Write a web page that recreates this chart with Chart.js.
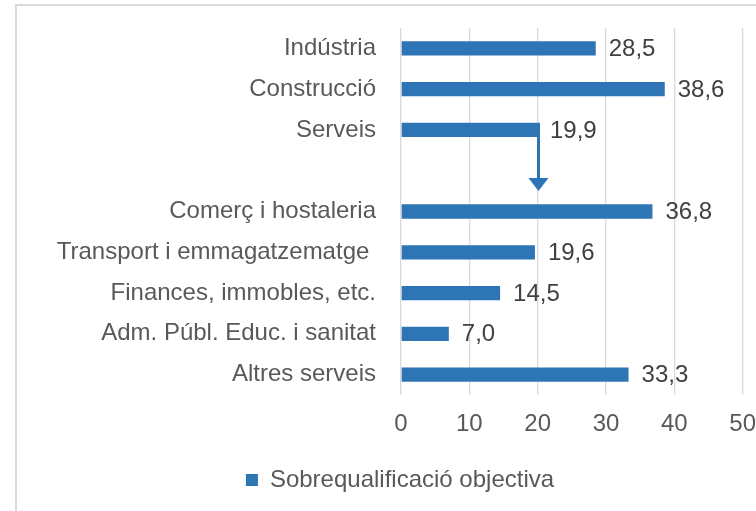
<!DOCTYPE html>
<html>
<head>
<meta charset="utf-8">
<script src="https://cdn.jsdelivr.net/npm/chart.js@4"></script>
<style>
    body { margin: 0; background: #fff; }
    #wrap { position: relative; width: 756px; height: 511px; overflow: hidden; }
    #frame { position: absolute; left: 15px; top: 4px; width: 800px; height: 600px; border: 2px solid #dadada; }
    canvas { position: absolute; left: 0; top: 0; }
</style>
</head>
<body>
<div id="wrap">
    <div id="frame"></div>
    <canvas id="barChart" width="756" height="511"></canvas>
</div>
<script>
// categories (blank one makes the gap under Serveis)
const sectors = ['Indústria', 'Construcció', 'Serveis', '', 'Comerç i hostaleria', 'Transport i emmagatzematge ', 'Finances, immobles, etc.', 'Adm. Públ. Educ. i sanitat', 'Altres serveis']
const overQualified = [28.5, 38.6, 19.9, null, 36.8, 19.6, 14.5, 7.0, 33.3]
const seriesName = 'Sobrequalificació objectiva'
const xTicks = [0, 10, 20, 30, 40, 50]

const blue = '#2E75B6'
const fontFamily = '"Liberation Sans", Arial, sans-serif'
const fontSize = 24

// value labels next to the bars, with decimal comma
const valueLabels = {
    id: 'valueLabels',
    afterDatasetsDraw(chart) {
        const ctx = chart.ctx
        const meta = chart.getDatasetMeta(0)
        ctx.save()
        ctx.font = fontSize + 'px ' + fontFamily
        ctx.fillStyle = '#404040'
        ctx.textAlign = 'left'
        ctx.textBaseline = 'middle'
        meta.data.forEach((bar, i) => {
            const v = overQualified[i]
            if (v === null) return
            ctx.fillText(v.toFixed(1).replace('.', ','), bar.x + 13, bar.y + 1)
        })
        ctx.restore()
    }
}

// arrow going down from the end of the Serveis bar
const serveisArrow = {
    id: 'serveisArrow',
    afterDatasetsDraw(chart) {
        const ctx = chart.ctx
        const bar = chart.getDatasetMeta(0).data[2]
        const yScale = chart.scales.y
        const x = bar.x + 1.5
        const yStart = bar.y - bar.height / 2
        const yTip = (yScale.getPixelForValue(3) + yScale.getPixelForValue(4)) / 2
        ctx.save()
        ctx.strokeStyle = blue
        ctx.fillStyle = blue
        ctx.lineWidth = 3
        ctx.beginPath()
        ctx.moveTo(x, yStart)
        ctx.lineTo(x, yTip - 10)
        ctx.stroke()
        ctx.beginPath()
        ctx.moveTo(x - 10, yTip - 13)
        ctx.lineTo(x + 10, yTip - 13)
        ctx.lineTo(x, yTip)
        ctx.closePath()
        ctx.fill()
        ctx.restore()
    }
}

const ctx = document.getElementById('barChart').getContext('2d')
const chart = new Chart(ctx, {
    type: 'bar',
    data: {
        labels: sectors,
        datasets: [{
            label: seriesName,
            data: overQualified,
            backgroundColor: blue,
            borderWidth: 0,
            categoryPercentage: 1,
            barPercentage: 0.35
        }]
    },
    options: {
        indexAxis: 'y',
        responsive: false,
        animation: false,
        layout: {
            padding: { top: 28, right: 2, bottom: 9, left: 46 }
        },
        scales: {
            x: {
                min: 0,
                max: 50,
                afterBuildTicks: (scale) => { scale.ticks = xTicks.map(v => ({ value: v })) },
                afterFit: (scale) => { scale.height = 63 },
                // tick marks kept only as invisible spacing, so padding doesn't eat the right edge
                grid: { color: '#d9d9d9', lineWidth: 1.3, drawTicks: true, tickLength: 15, tickColor: 'rgba(0,0,0,0)' },
                border: { display: false },
                ticks: {
                    color: '#595959',
                    padding: 0,
                    font: { size: fontSize, family: fontFamily }
                }
            },
            y: {
                afterFit: (scale) => { scale.width = 355 },
                grid: { display: false, drawTicks: true, tickLength: 25 },
                border: { display: false },
                ticks: {
                    color: '#595959',
                    padding: 0,
                    font: { size: fontSize, family: fontFamily }
                }
            }
        },
        plugins: {
            legend: {
                position: 'bottom',
                labels: {
                    boxWidth: 12,
                    boxHeight: 12,
                    padding: 10,
                    color: '#595959',
                    font: { size: fontSize, family: fontFamily }
                }
            },
            tooltip: { enabled: false }
        }
    },
    plugins: [valueLabels, serveisArrow]
})
</script>
</body>
</html>
